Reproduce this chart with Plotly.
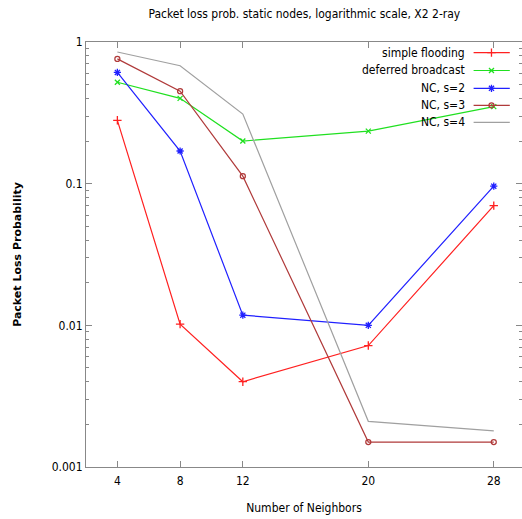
import plotly.graph_objects as go

neighbors = [4, 8, 12, 20, 28]
simple_flooding = [0.28, 0.0102, 0.0040, 0.0072, 0.070]
deferred_broadcast = [0.52, 0.40, 0.20, 0.235, 0.35]
nc_s2 = [0.61, 0.17, 0.0118, 0.0100, 0.096]
nc_s3 = [0.76, 0.45, 0.113, 0.0015, 0.0015]
nc_s4 = [0.85, 0.68, 0.31, 0.0021, 0.0018]

series = [
    ("simple flooding", simple_flooding, "#ff2020", "cross-thin-open", 6),
    ("deferred broadcast", deferred_broadcast, "#20e020", "x-thin-open", 5),
    ("NC, s=2", nc_s2, "#2020ff", "asterisk-open", 6),
    ("NC, s=3", nc_s3, "#b03a3a", "circle-open", 5),
    ("NC, s=4", nc_s4, "#a0a0a0", None, 0),
]

FONT = "DejaVu Sans Condensed, DejaVu Sans, sans-serif"
fig = go.Figure()
for name, vals, color, sym, size in series:
    fig.add_trace(go.Scatter(
        x=neighbors, y=vals, name=name,
        mode="lines+markers" if sym else "lines",
        line=dict(color=color, width=1.2),
        marker=dict(symbol=sym, size=size, color=color, line=dict(color=color, width=1.3)) if sym else None,
        showlegend=False,
    ))

# custom gnuplot-style legend (text right-aligned, sample on the right)
row_y = [0.975, 0.933, 0.891, 0.851, 0.811]
for (name, vals, color, sym, size), yy in zip(series, row_y):
    fig.add_annotation(x=0.873, y=yy, xref="paper", yref="paper", text=name,
                       showarrow=False, xanchor="right", yanchor="middle",
                       font=dict(size=12, color="black", family=FONT))
    fig.add_shape(type="line", xref="paper", yref="paper", x0=0.889, x1=0.972,
                  y0=yy, y1=yy, line=dict(color=color, width=1.2))
    if sym:
        fig.add_trace(go.Scatter(x=[0.930], y=[yy], xaxis="x2", yaxis="y2", mode="markers",
                                 marker=dict(symbol=sym, size=size, color=color,
                                             line=dict(color=color, width=1.3)),
                                 showlegend=False, hoverinfo="skip"))

minor_vals = [m * 10 ** e for e in range(-3, 0) for m in range(2, 10)]
axis_common = dict(showgrid=False, zeroline=False, showline=True, linecolor="#888888",
                   linewidth=1, mirror="allticks", ticks="inside", tickcolor="#888888",
                   ticklen=6, tickfont=dict(size=12, family=FONT, color="black"))
fig.update_layout(
    width=522, height=519,
    margin=dict(l=86, r=0, t=42, b=52),
    paper_bgcolor="white", plot_bgcolor="white",
    title=dict(text="Packet loss prob. static nodes, logarithmic scale, X2 2-ray",
               x=0.583, xanchor="center", y=0.973, yanchor="middle",
               font=dict(size=12, family=FONT, color="black")),
    xaxis=dict(range=[2, 29.8], tickvals=neighbors, ticktext=[str(v) for v in neighbors],
               ticklabelstandoff=3,
               title=dict(text="Number of Neighbors", font=dict(size=12, family=FONT, color="black"),
                          standoff=16),
               **axis_common),
    yaxis=dict(type="log", range=[-3, 0], tickvals=[0.001, 0.01, 0.1, 1],
               ticktext=["0.001", "0.01", "0.1", "1"],
               minor=dict(tickvals=minor_vals, ticks="inside", ticklen=3, tickcolor="#888888"),
               title=dict(text="<b>Packet Loss Probability</b>",
                          font=dict(size=11, family="DejaVu Sans, sans-serif", color="black"),
                          standoff=27),
               **axis_common),
    xaxis2=dict(range=[0, 1], overlaying="x", visible=False, domain=[0, 1]),
    yaxis2=dict(range=[0, 1], overlaying="y", visible=False),
)
fig.update_layout(xaxis2=dict(anchor="y2"), yaxis2=dict(anchor="x2"))
fig.write_html("out.html")
